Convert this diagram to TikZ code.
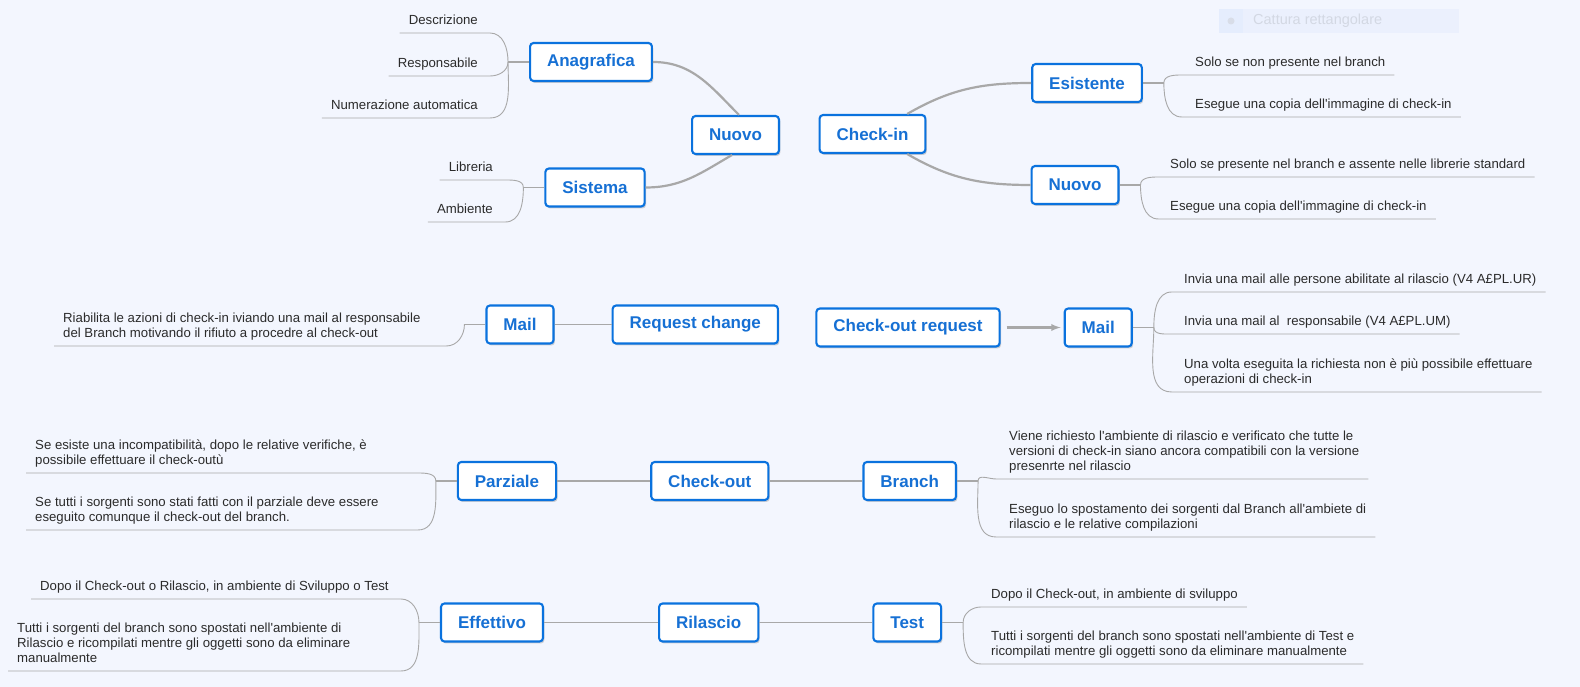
\documentclass[tikz,border=0pt]{standalone}
\usepackage{fontspec}
\setmainfont{Liberation Sans}
\usetikzlibrary{positioning, shadows, arrows, calc}
\definecolor{paper}{HTML}{F3F6FE}
\definecolor{topicblue}{HTML}{0A72DE}
\definecolor{topictext}{HTML}{1670D4}
\definecolor{linegray}{HTML}{A8A8A8}
\definecolor{notetext}{HTML}{2B2B2B}
\definecolor{capfill}{HTML}{EBF0FD}
\definecolor{capsquare}{HTML}{E5EDFD}
\definecolor{capdot}{HTML}{D8DDE8}
\definecolor{captext}{HTML}{D3D8E3}

\begin{document}
\begin{tikzpicture}[x=1pt, y=1pt, >=latex,
    topic/.style={draw=topicblue, line width=2.1pt, fill=white, rounded corners=3.5pt,
        minimum height=38pt, inner xsep=17pt, text=topictext,
        font=\fontsize{17}{20}\selectfont\bfseries,
        drop shadow={shadow xshift=1.4pt, shadow yshift=-2pt, opacity=0.35}},
    leafnote/.style={align=left, inner xsep=9pt, inner ysep=5pt, text depth=3pt,
        text=notetext, font=\fontsize{13.2}{15}\selectfont},
    twig/.style={draw=linegray, line width=0.9pt},
    stub/.style={draw=linegray, line width=1.5pt},
    bough/.style={draw=linegray, line width=2.2pt}]
\useasboundingbox (0,0) rectangle (1580,687);
\fill[paper] (0,0) rectangle (1580,687);

\fill[capfill] (1219,654) rectangle (1459,678);
\fill[capsquare] (1219,654) rectangle (1243,678);
\fill[capdot] (1231,666) circle (3.5);
\node[anchor=west, inner sep=0pt, text=captext, font=\fontsize{14.5}{16}\selectfont] (capture) at (1253,666) {Cattura rettangolare};

% nuovo
\node[topic] (nuovo-in) at (735.5,552) {Nuovo};
\node[topic] (anagrafica) at (591,625) {Anagrafica};
\node[topic] (sistema) at (595,499.5) {Sistema};
\coordinate[left=21pt of anagrafica.west] (f-ana);
\coordinate[left=18pt of f-ana] (e-ana);
\coordinate[left=21pt of sistema.west] (f-sis);
\coordinate[left=18pt of f-sis] (e-sis);
\node[leafnote, anchor=south east] (descrizione) at (487,654) {Descrizione};
\node[leafnote, anchor=south east] (responsabile) at (487,611) {Responsabile};
\node[leafnote, anchor=south east] (numerazione) at (487,569) {Numerazione automatica};
\node[leafnote, anchor=south east] (libreria) at (502,507) {Libreria};
\node[leafnote, anchor=south east] (ambiente) at (502,465) {Ambiente};

% check-in
\node[topic] (check-in) at (872.5,553) {Check-in};
\node[topic] (esistente) at (1087,604) {Esistente};
\node[topic] (nuovo-ci) at (1075,502) {Nuovo};
\coordinate[right=21pt of esistente.east] (f-esi);
\coordinate[right=18pt of f-esi] (e-esi);
\coordinate[right=21pt of nuovo-ci.east] (f-nuo);
\coordinate[right=18pt of f-nuo] (e-nuo);
\node[leafnote, anchor=south west] (esi-solo) at (1186,612) {Solo se non presente nel branch};
\node[leafnote, anchor=south west] (esi-copia) at (1186,570) {Esegue una copia dell\textquotesingle immagine di check-in};
\node[leafnote, anchor=south west] (nuo-solo) at (1161,510) {Solo se presente nel branch e assente nelle librerie standard};
\node[leafnote, anchor=south west] (nuo-copia) at (1161,468) {Esegue una copia dell\textquotesingle immagine di check-in};

% request change
\node[topic] (mail-rc) at (520,362.5) {Mail};
\node[topic, right=57pt of mail-rc] (request) {Request change};
\coordinate[left=21pt of mail-rc.west] (f-mrc);
\coordinate[left=18pt of f-mrc] (e-mrc);
\node[leafnote, anchor=south west] (riabilita) at (54,341) {Riabilita le azioni di check-in iviando una mail al responsabile\\del Branch motivando il rifiuto a procedre al check-out};

% check-out request
\node[topic] (co-request) at (908,359.5) {Check-out request};
\node[topic, right=63pt of co-request] (mail-co) {Mail};
\coordinate[right=21pt of mail-co.east] (f-mco);
\coordinate[right=18pt of f-mco] (e-mco);
\node[leafnote, anchor=south west] (invia-ur) at (1175,395) {Invia una mail alle persone abilitate al rilascio (V4 A£PL.UR)};
\node[leafnote, anchor=south west] (invia-um) at (1175,353) {Invia una mail al\ \ responsabile (V4 A£PL.UM)};
\node[leafnote, anchor=south west] (una-volta) at (1175,295) {Una volta eseguita la richiesta non è più possibile effettuare\\operazioni di check-in};

% check-out
\node[topic] (parziale) at (507,206) {Parziale};
\node[topic, right=93pt of parziale] (check-out) {Check-out};
\node[topic, right=93pt of check-out] (branch) {Branch};
\coordinate[left=21pt of parziale.west] (f-par);
\coordinate[left=18pt of f-par] (e-par);
\coordinate[right=21pt of branch.east] (f-bra);
\coordinate[right=18pt of f-bra] (e-bra);
\node[leafnote, anchor=south west] (par-esiste) at (26,214) {Se esiste una incompatibilità, dopo le relative verifiche, è\\possibile effettuare il check-outù};
\node[leafnote, anchor=south west] (par-tutti) at (26,157) {Se tutti i sorgenti sono stati fatti con il parziale deve essere\\eseguito comunque il check-out del branch.};
\node[leafnote, anchor=south west] (bra-viene) at (1000,208) {Viene richiesto l\textquotesingle ambiente di rilascio e verificato che tutte le\\versioni di check-in siano ancora compatibili con la versione\\presenrte nel rilascio};
\node[leafnote, anchor=south west] (bra-eseguo) at (1000,150) {Eseguo lo spostamento dei sorgenti dal Branch all\textquotesingle ambiete di\\rilascio e le relative compilazioni};

% rilascio
\node[topic] (effettivo) at (492,64.5) {Effettivo};
\node[topic, right=114pt of effettivo] (rilascio) {Rilascio};
\node[topic, right=113pt of rilascio] (test) {Test};
\coordinate[left=21pt of effettivo.west] (f-eff);
\coordinate[left=18pt of f-eff] (e-eff);
\coordinate[right=21pt of test.east] (f-tes);
\coordinate[right=18pt of f-tes] (e-tes);
\node[leafnote, anchor=south west] (eff-dopo) at (31,88) {Dopo il Check-out o Rilascio, in ambiente di Sviluppo o Test};
\node[leafnote, anchor=south west] (eff-tutti) at (8,16) {Tutti i sorgenti del branch sono spostati nell\textquotesingle ambiente di\\Rilascio e ricompilati mentre gli oggetti sono da eliminare\\manualmente};
\node[leafnote, anchor=south west] (tes-dopo) at (982,80) {Dopo il Check-out, in ambiente di sviluppo};
\node[leafnote, anchor=south west] (tes-tutti) at (982,23) {Tutti i sorgenti del branch sono spostati nell\textquotesingle ambiente di Test e\\ricompilati mentre gli oggetti sono da eliminare manualmente};

\draw[bough] (anagrafica.east) to[out=0, in=135] (nuovo-in.80);
\draw[bough] (sistema.east) to[out=0, in=-150] (nuovo-in.-100);
\draw[bough] (check-in.30) to[out=30, in=180] (esistente.west);
\draw[bough] (check-in.-30) to[out=-30, in=180] (nuovo-ci.west);
\draw[bough, line width=1.8pt] (mail-rc.east) -- (request.west);
\draw[bough, ->, shorten <=6pt, shorten >=3pt] (co-request.east) -- (mail-co.west);
\draw[bough, line width=1.8pt] (parziale.east) -- (check-out.west);
\draw[bough, line width=1.8pt] (check-out.east) -- (branch.west);
\draw[bough, line width=1.8pt] (effettivo.east) -- (rilascio.west);
\draw[bough, line width=1.8pt] (rilascio.east) -- (test.west);

\draw[stub] (anagrafica.west) -- (f-ana);
\draw[stub] (sistema.west) -- (f-sis);
\draw[stub] (esistente.east) -- (f-esi);
\draw[stub] (nuovo-ci.east) -- (f-nuo);
\draw[stub] (mail-rc.west) -- (f-mrc);
\draw[stub] (mail-co.east) -- (f-mco);
\draw[stub] (parziale.west) -- (f-par);
\draw[stub] (branch.east) -- (f-bra);
\draw[stub] (effettivo.west) -- (f-eff);
\draw[stub] (test.east) -- (f-tes);

\draw[twig] (descrizione.south west) -- (descrizione.south west -| e-ana) to[out=0, in=90] (f-ana);
\draw[twig] (responsabile.south west) -- (responsabile.south west -| e-ana) to[out=0, in=-90] (f-ana);
\draw[twig] (numerazione.south west) -- (numerazione.south west -| e-ana) to[out=0, in=-90] (f-ana);
\draw[twig] (libreria.south west) -- (libreria.south west -| e-sis) to[out=0, in=90] (f-sis);
\draw[twig] (ambiente.south west) -- (ambiente.south west -| e-sis) to[out=0, in=-90] (f-sis);
\draw[twig] (esi-solo.south east) -- (esi-solo.south east -| e-esi) to[out=180, in=90] (f-esi);
\draw[twig] (esi-copia.south east) -- (esi-copia.south east -| e-esi) to[out=180, in=-90] (f-esi);
\draw[twig] (nuo-solo.south east) -- (nuo-solo.south east -| e-nuo) to[out=180, in=90] (f-nuo);
\draw[twig] (nuo-copia.south east) -- (nuo-copia.south east -| e-nuo) to[out=180, in=-90] (f-nuo);
\draw[twig] (riabilita.south west) -- (riabilita.south west -| e-mrc) to[out=0, in=-90] (f-mrc);
\draw[twig] (invia-ur.south east) -- (invia-ur.south east -| e-mco) to[out=180, in=90] (f-mco);
\draw[twig] (invia-um.south east) -- (invia-um.south east -| e-mco) to[out=180, in=-90] (f-mco);
\draw[twig] (una-volta.south east) -- (una-volta.south east -| e-mco) to[out=180, in=-90] (f-mco);
\draw[twig] (par-esiste.south west) -- (par-esiste.south west -| e-par) to[out=0, in=90] (f-par);
\draw[twig] (par-tutti.south west) -- (par-tutti.south west -| e-par) to[out=0, in=-90] (f-par);
\draw[twig] (bra-viene.south east) -- (bra-viene.south east -| e-bra) to[out=180, in=90] (f-bra);
\draw[twig] (bra-eseguo.south east) -- (bra-eseguo.south east -| e-bra) to[out=180, in=-90] (f-bra);
\draw[twig] (eff-dopo.south west) -- (eff-dopo.south west -| e-eff) to[out=0, in=90] (f-eff);
\draw[twig] (eff-tutti.south west) -- (eff-tutti.south west -| e-eff) to[out=0, in=-90] (f-eff);
\draw[twig] (tes-dopo.south east) -- (tes-dopo.south east -| e-tes) to[out=180, in=90] (f-tes);
\draw[twig] (tes-tutti.south east) -- (tes-tutti.south east -| e-tes) to[out=180, in=-90] (f-tes);
\end{tikzpicture}
\end{document}
